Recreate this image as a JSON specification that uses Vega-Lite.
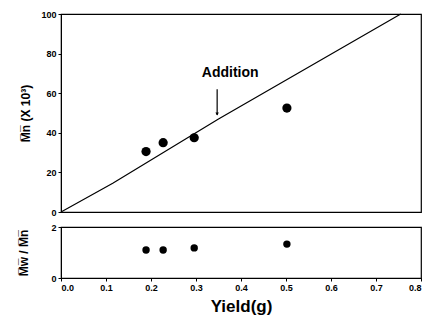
{
  "$schema": "https://vega.github.io/schema/vega-lite/v6.json",
  "background": "white",
  "padding": {"left": 17, "top": 9, "right": 0, "bottom": 0},
  "spacing": 4,
  "config": {
    "font": "Liberation Sans",
    "view": {"stroke": "black", "strokeWidth": 1.2},
    "axis": {
      "labelFont": "Liberation Sans", "labelFontWeight": "bold", "labelFontSize": 9, "labelColor": "black",
      "titleFont": "Liberation Sans", "titleFontWeight": "bold", "titleColor": "black",
      "grid": false, "domainColor": "black", "tickColor": "black", "tickSize": 3, "labelPadding": 2,
      "labelOverlap": false
    }
  },
  "datasets": {
    "line": [
      {"x": 0, "y": 0},
      {"x": 0.115, "y": 14.5},
      {"x": 0.35, "y": 47},
      {"x": 0.755, "y": 100}
    ],
    "mn": [
      {"x": 0.189, "y": 30.5},
      {"x": 0.227, "y": 35},
      {"x": 0.296, "y": 37.5},
      {"x": 0.502, "y": 52.5}
    ],
    "arrow": [{"x": 0.347, "y": 62, "y2": 49}],
    "head": [{"x": 0.347, "y": 49.5}],
    "label": [{"x": 0.376, "y": 70, "text": "Addition"}],
    "pdi": [
      {"x": 0.189, "y": 1.1},
      {"x": 0.227, "y": 1.1},
      {"x": 0.296, "y": 1.18},
      {"x": 0.502, "y": 1.33}
    ]
  },
  "vconcat": [
    {
      "width": 360,
      "height": 198,
      "encoding": {
        "x": {"field": "x", "type": "quantitative", "scale": {"domain": [0, 0.8], "nice": false}, "axis": null},
        "y": {"field": "y", "type": "quantitative", "scale": {"domain": [0, 100], "nice": false}, "axis": {"values": [0,20,40,60,80,100], "labelOverlap": false, "title": "M̅n̅ (X 10³)", "titleFontSize": 12, "titlePadding": 8}}
      },
      "layer": [
        {
          "data": {"name": "line"},
          "mark": {"type": "line", "color": "black", "strokeWidth": 1.2}
        },
        {
          "data": {"name": "mn"},
          "mark": {"type": "circle", "color": "black", "opacity": 1, "size": 85}
        },
        {
          "data": {"name": "arrow"},
          "mark": {"type": "rule", "color": "black", "strokeWidth": 1.2},
          "encoding": {"y2": {"field": "y2"}}
        },
        {
          "data": {"name": "head"},
          "mark": {"type": "point", "shape": "triangle-down", "filled": true, "color": "black", "opacity": 1, "size": 12}
        },
        {
          "data": {"name": "label"},
          "mark": {"type": "text", "font": "Liberation Sans", "fontWeight": "bold", "fontSize": 14, "color": "black"},
          "encoding": {"text": {"field": "text"}}
        }
      ]
    },
    {
      "width": 360,
      "height": 51,
      "data": {"name": "pdi"},
      "mark": {"type": "circle", "color": "black", "opacity": 1, "size": 55},
      "encoding": {
        "x": {"field": "x", "type": "quantitative", "scale": {"domain": [0, 0.8], "nice": false}, "axis": {"values": [0,0.1,0.2,0.3,0.4,0.5,0.6,0.7,0.8], "format": ".1f", "title": "Yield(g)", "titleFontSize": 17, "titlePadding": 6}},
        "y": {"field": "y", "type": "quantitative", "scale": {"domain": [0, 2], "nice": false}, "axis": {"values": [0,1,2], "format": "d", "title": "M̅w̅ / M̅n̅", "titleFontSize": 12, "titlePadding": 20}}
      }
    }
  ]
}
